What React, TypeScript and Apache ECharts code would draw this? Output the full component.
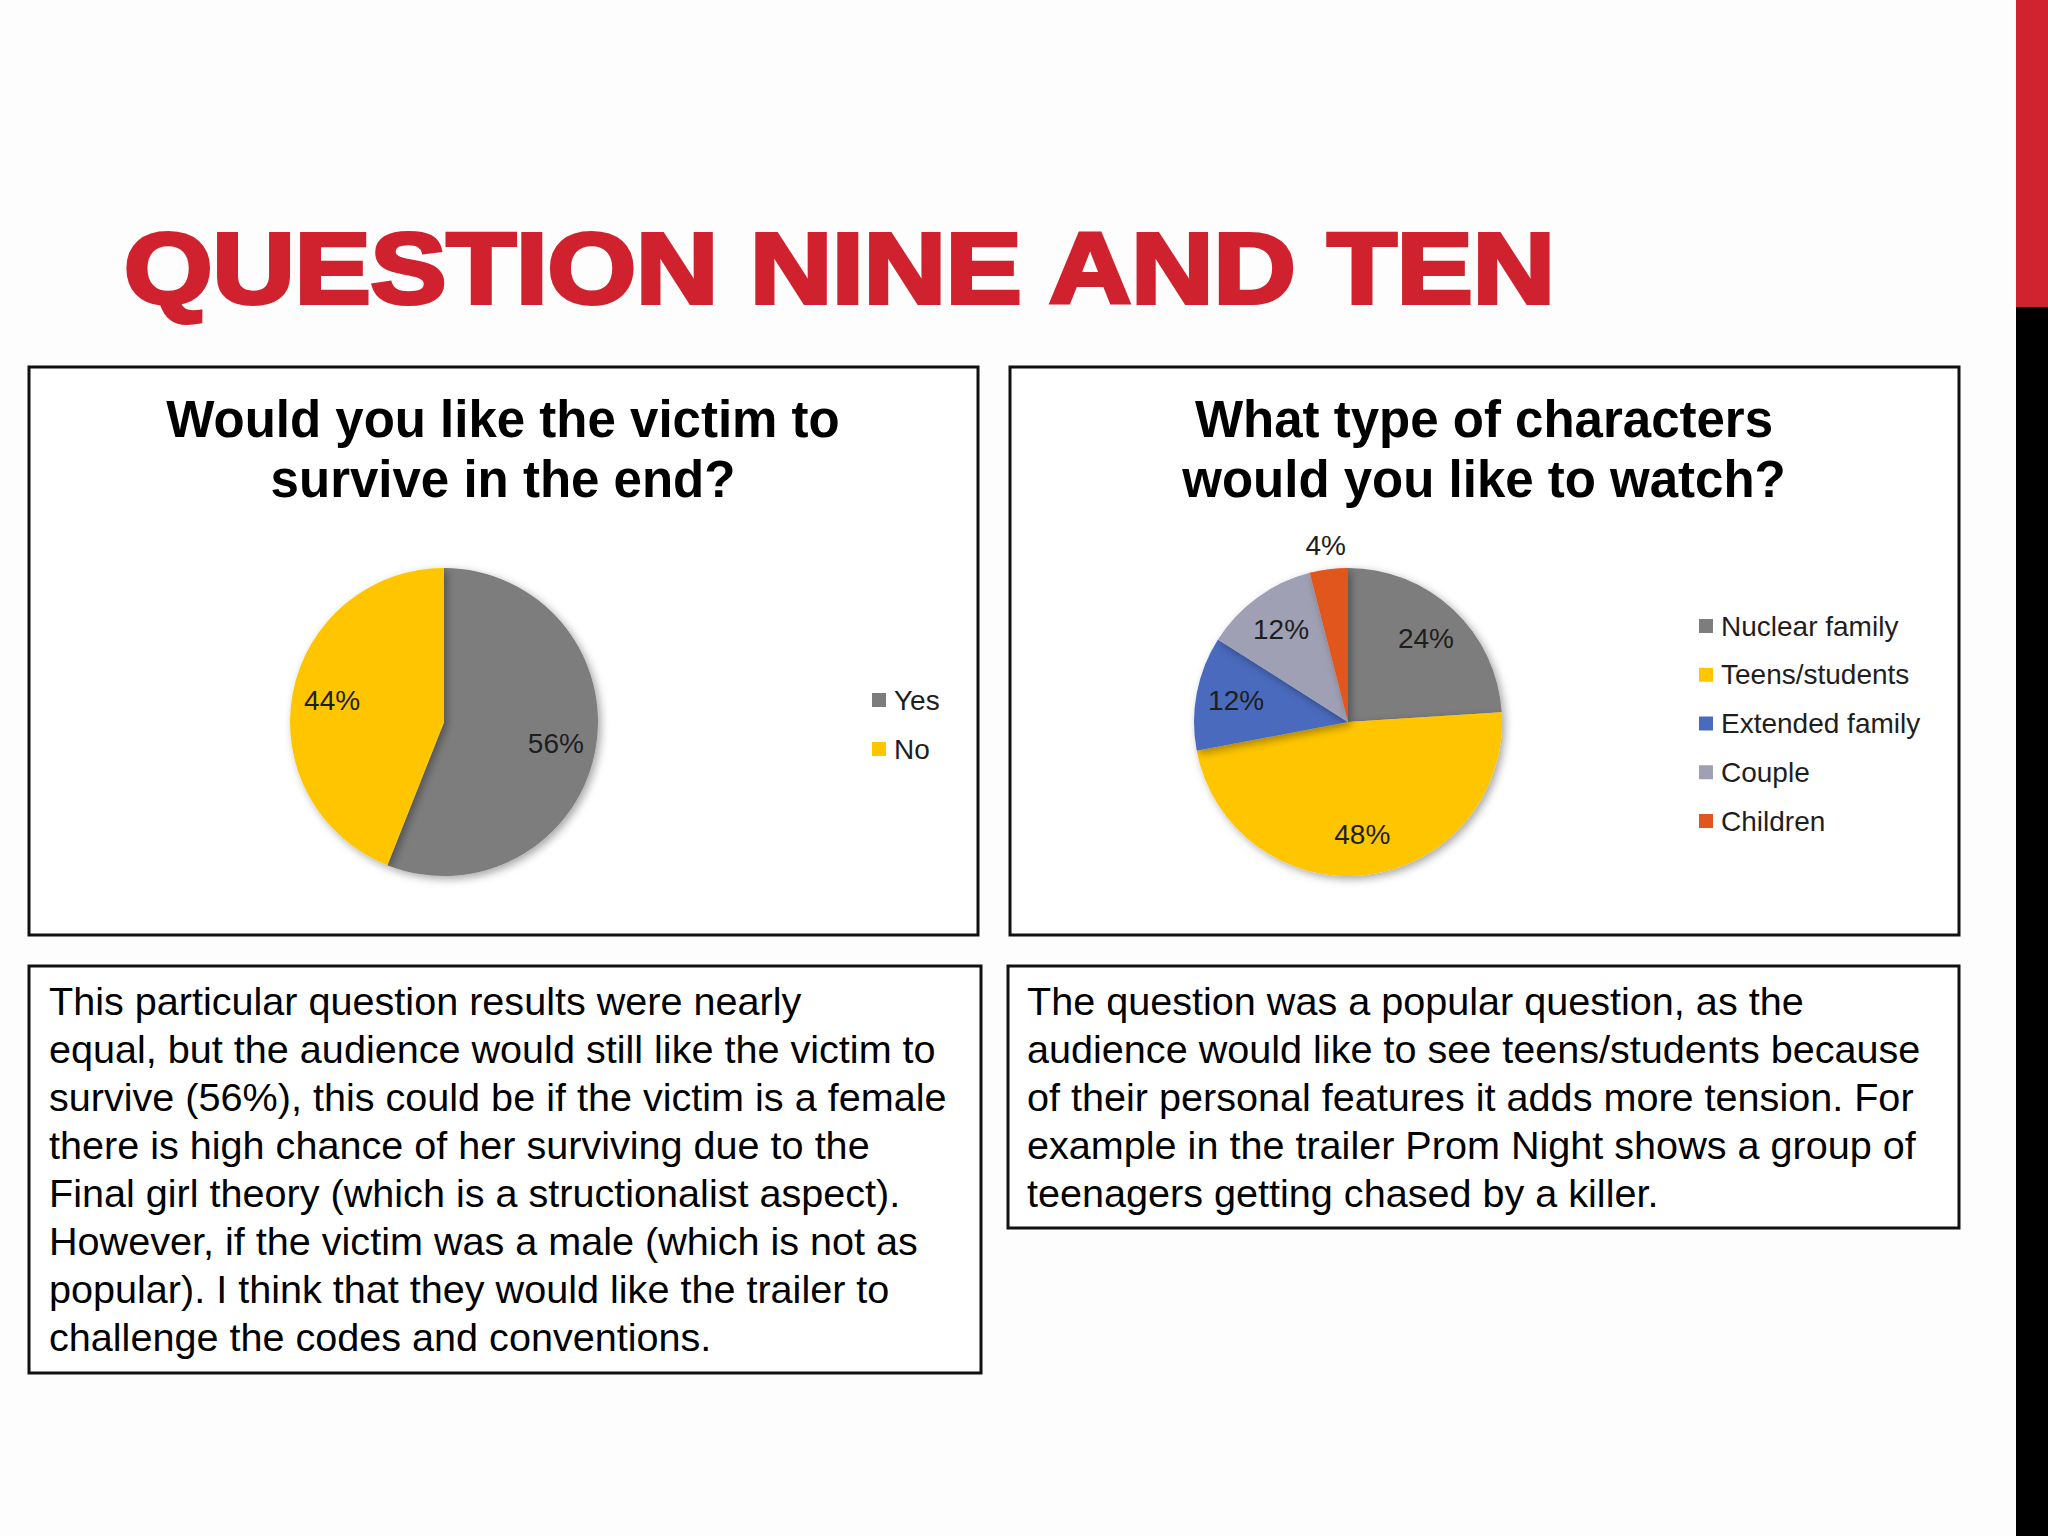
import React, { useEffect, useRef } from "react";
import * as echarts from "echarts";

const FONT = "'Liberation Sans', Arial, Helvetica, sans-serif";

const pageTitle = "QUESTION NINE AND TEN";

const surviveTitle = "Would you like the victim to\nsurvive in the end?";
const surviveCategories = ["Yes", "No"];
const surviveValues = [56, 44];
const surviveColors = ["#7d7d7e", "#ffc600"];

const characterTitle = "What type of characters\nwould you like to watch?";
const characterCategories = ["Nuclear family", "Teens/students", "Extended family", "Couple", "Children"];
const characterValues = [24, 48, 12, 12, 4];
const characterColors = ["#7d7d7e", "#ffc600", "#4a6bbd", "#9fa0b3", "#e0561d"];
const characterOutsideLabel = ["Children"];

const surviveText = [
  "This particular question results were nearly",
  "equal, but the audience would still like the victim to",
  "survive (56%), this could be if the victim is a female",
  "there is high chance of her surviving due to the",
  "Final girl theory (which is a structionalist aspect).",
  "However, if the victim was a male (which is not as",
  "popular). I think that they would like the trailer to",
  "challenge the codes and conventions.",
];

const characterText = [
  "The question was a popular question, as the",
  "audience would like to see teens/students because",
  "of their personal features it adds more tension. For",
  "example in the trailer Prom Night shows a group of",
  "teenagers getting chased by a killer.",
];

const PIE_R = 154;
const LABEL_STYLE = { fontSize: 28, fontFamily: FONT, color: "#1e1e1e" };

function mainPie(center: number[], names: string[], values: number[], colors: string[]) {
  return {
    type: "pie",
    center,
    radius: PIE_R,
    startAngle: 90,
    clockwise: true,
    silent: true,
    avoidLabelOverlap: false,
    label: { show: false },
    labelLine: { show: false },
    emphasis: { disabled: true },
    itemStyle: {
      borderWidth: 0,
      shadowBlur: 8,
      shadowOffsetX: 3,
      shadowOffsetY: 3,
      shadowColor: "rgba(0,0,0,0.35)",
    },
    data: names.map((n, i) => ({ name: n, value: values[i], itemStyle: { color: colors[i] } })),
  };
}

function labelPie(center: number[], radius: any, names: string[], values: number[], shown: (n: string) => boolean) {
  return {
    type: "pie",
    center,
    radius,
    startAngle: 90,
    clockwise: true,
    silent: true,
    avoidLabelOverlap: false,
    emphasis: { disabled: true },
    itemStyle: { color: "rgba(0,0,0,0)", borderWidth: 0 },
    labelLine: { show: false },
    label: { show: true, position: "inside", formatter: "{c}%", ...LABEL_STYLE },
    data: names.map((n, i) => ({ name: n, value: values[i], label: { show: shown(n) } })),
  };
}

export default function App() {
  const ref = useRef<HTMLDivElement>(null);

  useEffect(() => {
    if (!ref.current) return;
    const chart = echarts.init(ref.current, undefined, { renderer: "svg" });

    const legendCommon = {
      orient: "vertical",
      icon: "rect",
      itemWidth: 14,
      itemHeight: 14,
      padding: 0,
      selectedMode: false,
      textStyle: { fontSize: 28, fontFamily: FONT, color: "#1e1e1e", lineHeight: 30, padding: [0, 0, 0, 3] },
    };

    const box = (x: number, y: number, w: number, h: number) => ({
      type: "rect",
      shape: { x, y, width: w, height: h },
      style: { fill: "#ffffff", stroke: "#111111", lineWidth: 3 },
      z: 0,
    });

    const textStyle = (text: string, size: number, weight: string, extra: any) => ({
      text,
      fill: "#000000",
      fontSize: size,
      fontWeight: weight,
      fontFamily: FONT,
      ...extra,
    });

    const option: any = {
      animation: false,
      backgroundColor: "#fdfdfd",
      legend: [
        { ...legendCommon, data: surviveCategories, left: 872, top: 685, itemGap: 19 },
        { ...legendCommon, data: characterCategories, left: 1699, top: 611, itemGap: 18.75 },
      ],
      graphic: [
        box(29, 367, 949, 568),
        box(1010, 367, 949, 568),
        box(29, 966, 952, 407),
        box(1008, 966, 951, 262),
        { type: "rect", shape: { x: 2016, y: 0, width: 32, height: 307 }, style: { fill: "#d1232f" } },
        { type: "rect", shape: { x: 2016, y: 307, width: 32, height: 1229 }, style: { fill: "#000000" } },
        {
          type: "text",
          x: 124,
          y: 268,
          scaleX: 1.138,
          z: 5,
          style: textStyle(pageTitle, 100, "bold", {
            fill: "#d0222e",
            stroke: "#d0222e",
            lineWidth: 4,
            align: "left",
            verticalAlign: "middle",
          }),
        },
        {
          type: "text",
          x: 503,
          y: 449,
          z: 5,
          style: textStyle(surviveTitle, 51, "bold", { lineHeight: 60, align: "center", verticalAlign: "middle" }),
        },
        {
          type: "text",
          x: 1484,
          y: 449,
          z: 5,
          style: textStyle(characterTitle, 51, "bold", { lineHeight: 60, align: "center", verticalAlign: "middle" }),
        },
        {
          type: "text",
          x: 49,
          y: 977,
          z: 5,
          style: textStyle(surviveText.join("\n"), 39.6, "normal", { lineHeight: 48, align: "left", verticalAlign: "top" }),
        },
        {
          type: "text",
          x: 1027,
          y: 977,
          z: 5,
          style: textStyle(characterText.join("\n"), 39.6, "normal", { lineHeight: 48, align: "left", verticalAlign: "top" }),
        },
      ],
      series: [
        mainPie([444, 722], surviveCategories, surviveValues, surviveColors),
        mainPie([1348, 722], characterCategories, characterValues, characterColors),
        labelPie([444, 722], PIE_R * 1.44, surviveCategories, surviveValues, () => true),
        labelPie([1348, 722], PIE_R * 1.44, characterCategories, characterValues, (n) => !characterOutsideLabel.includes(n)),
        labelPie([1348, 722], [166, 184], characterCategories, characterValues, (n) => characterOutsideLabel.includes(n)),
      ],
    };

    chart.setOption(option);
    return () => chart.dispose();
  }, []);

  return <div ref={ref} style={{ position: "absolute", left: 0, top: 0, width: 2048, height: 1536 }} />;
}
